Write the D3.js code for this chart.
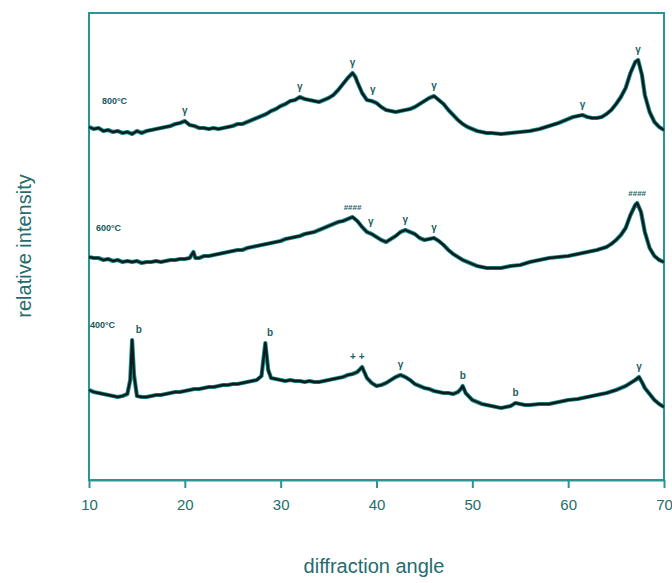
<!DOCTYPE html>
<html>
<head>
<meta charset="utf-8">
<script src="https://cdn.jsdelivr.net/npm/d3@7/dist/d3.min.js"></script>
<style>
  body { margin: 0; background: #fff; }
  text { font-family: "Liberation Sans", Arial, sans-serif; }
</style>
</head>
<body>
<svg id="chart" width="672" height="583"></svg>
<script>
// Diffraction angle ticks
const xTicks = [10, 20, 30, 40, 50, 60, 70];

// Calcination temperatures, top to bottom
const temps = ["800°C", "600°C", "400°C"];

// [angle, relative intensity] for each pattern (offset stacked)
const s800 = [
  [10,353],[10.5,351],[11,352],[11.5,349],[12,350],[12.5,348],[13,349],[13.5,347],[14,348],[14.5,346],
  [15,349],[15.5,347],[16,349],[16.5,350],[17,351],[17.5,352],[18,353],[18.5,354],[19,356],[19.5,357],
  [20,359],[20.5,355],[21,354],[21.5,352],[22,352],[22.5,351],[23,352],[23.5,351],[24,352],[24.5,353],
  [25,354],[25.5,356],[26,356],[26.5,358],[27,360],[27.5,362],[28,364],[28.5,366],[29,369],[29.5,371],
  [30,374],[30.5,376],[31,379],[31.5,380],[32,383],[32.5,381],[33,380],[33.5,379],[34,378],[34.5,380],
  [35,382],[35.5,385],[36,390],[36.5,396],[37,402],[37.3,405],[37.5,407],[37.8,403],[38,398],[38.5,387],
  [39,380],[39.5,379],[40,377],[40.5,373],[41,370],[41.5,369],[42,368],[42.5,369],[43,370],[43.5,371],
  [44,373],[44.5,376],[45,379],[45.5,382],[46,384],[46.5,380],[47,376],[47.5,370],[48,365],[48.5,360],
  [49,356],[49.5,353],[50,351],[50.5,349],[51,348],[51.5,347],[52,347],[53,346],[54,347],[55,348],
  [56,349],[57,351],[58,354],[59,357],[60,361],[60.5,363],[61,364],[61.5,365],[62,363],[62.5,362],
  [63,362],[63.5,363],[64,366],[64.5,370],[65,376],[65.5,383],[66,392],[66.5,407],[67,418],[67.3,420],
  [67.7,405],[68,385],[68.5,368],[69,358],[69.5,353],[70,350]
];
const s600 = [
  [10,223],[10.5,222],[11,222],[11.5,220],[12,221],[12.5,219],[13,220],[13.5,218],[14,219],[14.5,218],
  [15,219],[15.5,217],[16,218],[16.5,218],[17,219],[17.5,218],[18,219],[18.5,220],[19,220],[19.5,221],
  [20,221],[20.5,222],[20.9,228],[21.1,222],[21.5,222],[22,224],[22.5,224],[23,225],[23.5,226],[24,227],
  [24.5,228],[25,229],[25.5,230],[26,230],[26.5,232],[27,233],[27.5,234],[28,235],[28.5,236],[29,237],
  [29.5,238],[30,239],[30.5,241],[31,242],[31.5,243],[32,244],[32.5,246],[33,247],[33.5,248],[34,250],
  [34.5,252],[35,254],[35.5,256],[36,258],[36.5,259],[37,261],[37.5,263],[38,259],[38.5,253],[39,248],
  [39.5,246],[40,243],[40.5,240],[41,238],[41.5,241],[42,244],[42.5,248],[43,250],[43.5,248],[44,246],
  [44.5,242],[45,240],[45.5,241],[46,242],[46.5,239],[47,235],[47.5,230],[48,226],[48.5,223],[49,220],
  [49.5,218],[50,216],[50.5,214],[51,213],[51.5,212],[52,212],[53,212],[54,214],[55,215],[56,218],
  [57,220],[58,222],[59,223],[60,224],[61,226],[62,228],[63,230],[64,233],[64.5,236],[65,240],
  [65.5,245],[66,252],[66.5,265],[67,275],[67.2,277],[67.6,268],[68,248],[68.5,232],[69,224],[69.5,220],
  [70,218]
];
const s400 = [
  [10,90],[10.5,88],[11,87],[11.5,86],[12,85],[12.5,84],[13,83],[13.5,84],[14,86],[14.3,100],
  [14.5,140],[14.7,105],[15,84],[15.5,83],[16,83],[16.5,84],[17,85],[17.5,85],[18,86],[18.5,87],
  [19,88],[19.5,88],[20,89],[20.5,90],[21,91],[21.5,91],[22,92],[22.5,93],[23,93],[23.5,94],
  [24,95],[24.5,95],[25,96],[25.5,96],[26,97],[26.5,98],[27,99],[27.5,100],[28,104],[28.4,137],
  [28.7,110],[29,102],[29.5,101],[30,100],[30.5,99],[31,100],[31.5,99],[32,99],[32.5,98],[33,99],
  [33.5,98],[34,98],[34.5,99],[35,100],[35.5,101],[36,102],[36.5,103],[37,105],[37.5,106],[38,108],
  [38.5,113],[39,102],[39.5,97],[40,94],[40.5,95],[41,97],[41.5,100],[42,103],[42.5,105],[43,103],
  [43.5,100],[44,96],[44.5,94],[45,92],[45.5,91],[46,89],[46.5,88],[47,87],[47.5,87],[48,86],
  [48.5,88],[48.8,91],[49,94],[49.3,87],[49.7,83],[50,80],[50.5,78],[51,76],[51.5,75],[52,74],
  [52.5,73],[53,72],[53.5,73],[54,74],[54.5,77],[55,76],[55.5,75],[56,75],[57,76],[58,76],
  [59,78],[60,80],[61,81],[62,83],[63,85],[64,87],[65,90],[66,94],[66.5,97],[67,100],
  [67.4,103],[67.8,96],[68,92],[68.5,86],[69,80],[69.5,76],[70,73]
];

// Phase marks above the reflections: [angle, symbol]
const peaks800 = [[20,"γ"],[32,"γ"],[37.5,"γ"],[39.6,"γ"],[46,"γ"],[61.5,"γ"],[67.3,"γ"]];
const peaks600 = [[37.5,"####"],[39.4,"γ"],[43,"γ"],[46,"γ"],[67.2,"####"]];
const peaks400 = [[15.2,"b"],[28.9,"b"],[38,"+ +"],[42.5,"γ"],[49,"b"],[54.5,"b"],[67.4,"γ"]];

const series = [s800, s600, s400];
const peaks = [peaks800, peaks600, peaks400];

const svg = d3.select("#chart");
const frame = { left: 89, right: 664, top: 13, bottom: 480 };
const teal = "#2a9595";
const textTeal = "#256c6c";

const x = d3.scaleLinear().domain([10, 70]).range([frame.left, frame.right]);
const y = d3.scaleLinear().domain([0, 467]).range([frame.bottom, frame.top]);

// plot frame
svg.append("rect")
  .attr("x", frame.left).attr("y", frame.top)
  .attr("width", frame.right - frame.left)
  .attr("height", frame.bottom - frame.top)
  .attr("fill", "none").attr("stroke", teal).attr("stroke-width", 2);

// bottom axis
const xAxis = svg.append("g")
  .attr("transform", `translate(0,${frame.bottom})`)
  .call(d3.axisBottom(x).tickValues(xTicks).tickSize(8).tickSizeOuter(0).tickPadding(11));
xAxis.select(".domain").attr("stroke", teal).attr("stroke-width", 2);
xAxis.selectAll(".tick line").attr("stroke", teal).attr("stroke-width", 2);
xAxis.selectAll(".tick text")
  .attr("fill", textTeal).attr("font-size", 15)
  .style("font-family", "'Liberation Sans', Arial, sans-serif");

// axis titles
svg.append("text")
  .attr("x", 374).attr("y", 573)
  .attr("text-anchor", "middle")
  .attr("font-size", 20).attr("fill", textTeal)
  .text("diffraction angle");
svg.append("text")
  .attr("transform", "translate(31,246) rotate(-90)")
  .attr("text-anchor", "middle")
  .attr("font-size", 20).attr("fill", textTeal)
  .text("relative intensity");

// patterns
const line = d3.line().x(d => x(d[0])).y(d => y(d[1]));
const traces = svg.append("g");
series.forEach(s => {
  traces.append("path").datum(s)
    .attr("d", line).attr("fill", "none")
    .attr("stroke", "#1f8f8f").attr("stroke-width", 4.2)
    .attr("stroke-linejoin", "round");
  traces.append("path").datum(s)
    .attr("d", line).attr("fill", "none")
    .attr("stroke", "#0a1c1c").attr("stroke-width", 2.4)
    .attr("stroke-linejoin", "round");
});

// temperature labels
const tempLabelX = [102, 96, 90];
const tempLabelLift = [26, 29, 65];
temps.forEach((t, i) => {
  svg.append("text")
    .attr("x", tempLabelX[i])
    .attr("y", y(series[i][0][1]) - tempLabelLift[i] + 3)
    .attr("font-size", 9).attr("font-weight", "bold")
    .attr("fill", "#145a5a")
    .text(t);
});

// phase marks: placed just above the local maximum of each pattern
peaks.forEach((list, i) => {
  list.forEach(([a, sym]) => {
    const near = series[i].filter(d => Math.abs(d[0] - a) <= 0.8);
    const top = d3.max(near, d => d[1]);
    svg.append("text")
      .attr("x", x(a)).attr("y", y(top) - 7)
      .attr("text-anchor", "middle")
      .attr("font-size", sym === "####" ? 8 : 10)
      .attr("font-weight", "bold")
      .attr("fill", "#1d5f5f")
      .text(sym);
  });
});
</script>
</body>
</html>
